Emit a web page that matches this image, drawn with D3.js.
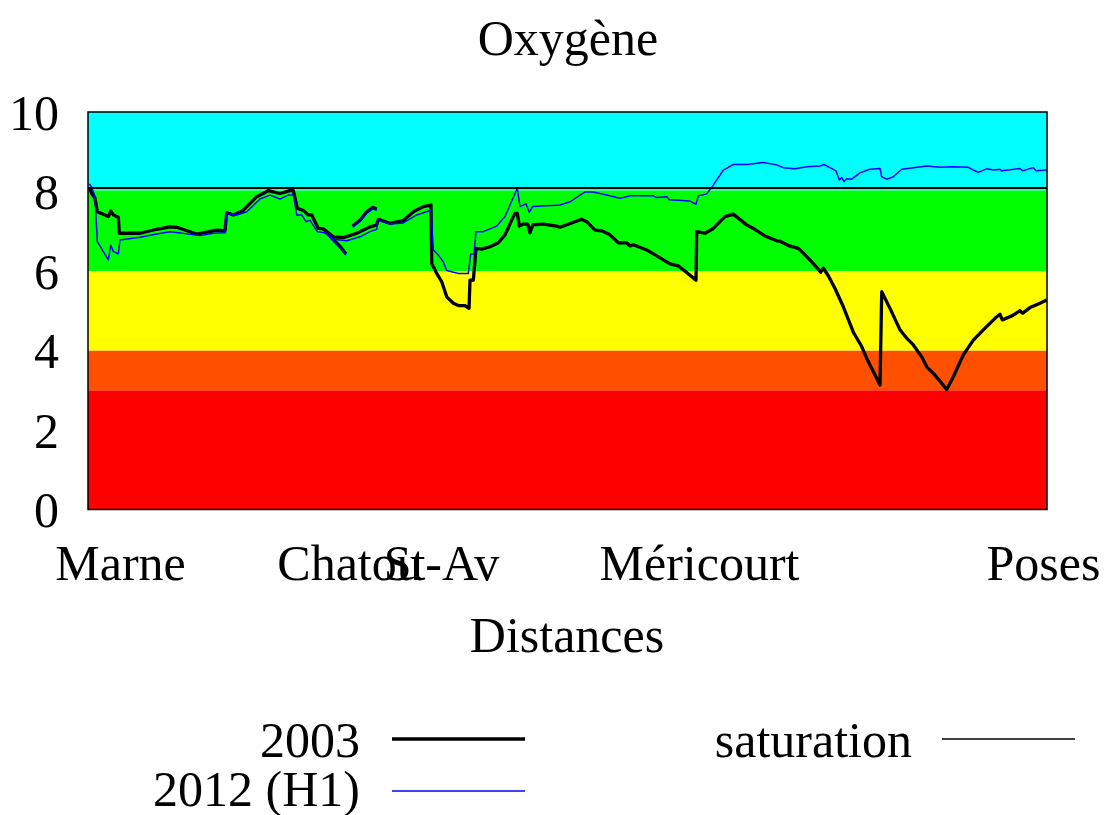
<!DOCTYPE html>
<html>
<head>
<meta charset="utf-8">
<script src="https://cdn.jsdelivr.net/npm/d3@7"></script>
<style>
  html, body { margin: 0; padding: 0; background: #fff; }
  svg { display: block; }
  text { font-family: "Liberation Serif", "Times New Roman", serif; fill: #000; }
</style>
</head>
<body>
<svg id="chart" width="1105" height="815"></svg>
<script>
// Dissolved oxygen (mg/l) along the Seine, Marne confluence -> Poses

// Quality classes (lower bound, upper bound, colour)
const classBounds = [0, 3, 4, 6, 8.03, 10];
const classColors = ["#ff0000", "#ff5000", "#ffff00", "#00ff00", "#00ffff"];
const saturationLevel = 8.09;

// Reach names shown on the distance axis (km)
const reachNames = ["Marne", "Chatou", "St-Av", "Méricourt", "Poses"];
const reachKm = [8, 65.25, 88.25, 152.75, 238.75];

const yTicks = [0, 2, 4, 6, 8, 10];

// 2003 profile, main channel
const dist2003 = [0.33, 0.93, 1.75, 2.33, 4.25, 5.08, 5.68, 6.33, 7.58, 7.83, 13.0, 17.18, 20.5, 22.18,
  27.18, 29.68, 32.18, 34.25, 34.68, 36.33, 38.83, 42.18, 45.08, 48.0, 50.5, 51.33, 52.33, 53.83,
  55.08, 55.93, 57.58, 58.83, 61.33, 63.83, 67.18, 70.5, 72.18, 72.58, 75.5, 78.83, 81.33, 83.83,
  85.75, 85.93, 87.18, 88.43, 89.68, 91.33, 92.58, 94.25, 95.25, 95.5, 96.33, 97.0, 98.43, 100.5,
  102.58, 104.25, 105.93, 106.75, 107.33, 107.83, 108.83, 109.93, 110.5, 111.18, 113.83, 117.18,
  118.0, 123.43, 124.68, 126.75, 128.43, 130.5, 132.58, 134.68, 135.5, 136.33, 139.68, 142.18,
  145.5, 147.58, 152.0, 152.18, 154.25, 156.33, 159.25, 161.33, 164.68, 166.33, 169.25, 172.18,
  173.0, 175.08, 177.58, 178.83, 180.93, 183.18, 183.83, 185.08, 186.75, 188.83, 191.33, 193.43,
  194.68, 196.33, 198.0, 198.43, 200.5, 203.0, 204.68, 206.33, 208.43, 209.68, 211.75, 214.68,
  216.33, 218.83, 221.33, 223.83, 226.75, 228.0, 228.58, 231.33, 233.0, 233.68, 235.5, 238.0, 239.68];
const oxy2003 = [8.11, 7.95, 7.83, 7.49, 7.41, 7.37, 7.51, 7.41, 7.35, 6.95, 6.95, 7.05, 7.11, 7.10,
  6.93, 6.98, 7.03, 7.01, 7.47, 7.41, 7.53, 7.87, 8.02, 7.95, 8.02, 8.02, 7.58, 7.52,
  7.41, 7.41, 7.07, 7.06, 6.86, 6.84, 6.95, 7.11, 7.16, 7.30, 7.20, 7.27, 7.49, 7.62,
  7.66, 6.19, 5.94, 5.73, 5.35, 5.19, 5.13, 5.13, 5.06, 5.77, 5.77, 6.57, 6.55, 6.61,
  6.71, 6.91, 7.28, 7.45, 7.45, 7.13, 7.18, 7.18, 6.96, 7.16, 7.18, 7.13,
  7.10, 7.30, 7.24, 7.03, 7.01, 6.91, 6.71, 6.71, 6.63, 6.66, 6.53, 6.38,
  6.18, 6.13, 5.77, 6.99, 6.95, 7.07, 7.37, 7.43, 7.16, 7.07, 6.88, 6.76,
  6.75, 6.64, 6.57, 6.45, 6.23, 5.97, 6.07, 5.88, 5.56, 5.10, 4.46, 4.10,
  3.80, 3.47, 3.13, 5.48, 5.06, 4.52, 4.31, 4.14, 3.84, 3.59, 3.38, 3.02,
  3.34, 3.89, 4.26, 4.52, 4.81, 4.91, 4.77, 4.89, 5.00, 4.94, 5.08, 5.19, 5.27];
// 2003, side branch below Chatou and upstream arm
const dist2003Branch = [59.68, 61.25, 63.0, 64.5];
const oxy2003Branch = [6.98, 6.80, 6.62, 6.43];
const dist2003Arm = [66.18, 67.0, 68.0, 69.68, 71.18, 72.18];
const oxy2003Arm = [7.13, 7.20, 7.28, 7.49, 7.60, 7.56];

// 2012 (H1) profile, main channel
const dist2012 = [0.33, 0.93, 1.75, 2.33, 5.08, 5.68, 6.33, 7.58, 8.0, 13.0, 17.18, 20.5, 22.18, 28.0,
  31.33, 34.25, 34.68, 37.18, 39.68, 43.0, 45.5, 48.0, 50.08, 51.33, 52.18, 53.43, 54.5, 55.5,
  57.33, 59.25, 61.33, 64.68, 68.0, 70.5, 72.18, 72.43, 75.5, 78.83, 82.18, 85.75, 86.33, 87.58,
  88.83, 89.68, 90.93, 92.58, 95.08, 95.68, 96.5, 97.0, 98.83, 102.18, 104.25, 107.33, 108.0,
  109.5, 110.33, 111.18, 118.0, 120.5, 124.25, 126.33, 129.68, 133.0, 135.5, 141.33, 142.18,
  144.68, 145.33, 150.5, 152.0, 152.58, 154.68, 156.33, 158.83, 161.33, 164.68, 168.83, 172.18,
  173.83, 176.75, 179.68, 183.0, 184.0, 185.5, 187.0, 187.83, 188.43, 189.0, 189.68, 190.93,
  193.0, 195.5, 198.0, 198.43, 199.68, 201.33, 203.43, 206.33, 209.68, 213.0, 216.33, 220.08,
  221.33, 222.58, 224.68, 226.33, 228.0, 228.43, 230.5, 233.0, 233.68, 236.33, 237.0, 239.68];
const oxy2012 = [8.19, 8.11, 7.87, 6.74, 6.28, 6.65, 6.49, 6.43, 6.78, 6.85, 6.93, 6.99, 6.97, 6.89,
  6.95, 6.96, 7.45, 7.41, 7.49, 7.81, 7.91, 7.81, 7.91, 7.91, 7.41, 7.41, 7.24, 7.28,
  6.99, 6.96, 6.80, 6.76, 6.86, 6.99, 7.05, 7.28, 7.18, 7.21, 7.41, 7.53, 6.53, 6.40,
  6.23, 6.01, 5.98, 5.94, 5.94, 6.43, 6.43, 6.99, 6.99, 7.13, 7.37, 8.08, 7.62,
  7.69, 7.48, 7.62, 7.66, 7.74, 7.99, 7.99, 7.91, 7.83, 7.89, 7.89, 7.85,
  7.87, 7.79, 7.76, 7.68, 7.89, 7.94, 8.16, 8.54, 8.68, 8.68, 8.73, 8.67,
  8.60, 8.57, 8.62, 8.64, 8.68, 8.60, 8.52, 8.29, 8.35, 8.25, 8.32, 8.31,
  8.47, 8.56, 8.58, 8.37, 8.31, 8.37, 8.56, 8.60, 8.64, 8.61, 8.62, 8.61,
  8.54, 8.48, 8.57, 8.54, 8.56, 8.52, 8.55, 8.58, 8.52, 8.60, 8.52, 8.54];
const dist2012Branch = [59.68, 61.25, 63.0, 64.5];
const oxy2012Branch = [6.93, 6.76, 6.58, 6.40];
const dist2012Arm = [66.18, 68.0, 69.68, 71.18, 72.18];
const oxy2012Arm = [7.10, 7.25, 7.45, 7.56, 7.53];

const legendLabels = ["2003", "2012 (H1)", "saturation"];

// ---------------------------------------------------------------
const svg = d3.select("#chart");
const plot = { left: 88, right: 1047, top: 112, bottom: 509.5 };

const x = d3.scaleLinear().domain([0, 239.75]).range([plot.left, plot.right]);
const y = d3.scaleLinear().domain([0, 10]).range([plot.bottom, plot.top]);

const toPoints = (ds, vs) => ds.map((d, i) => [d, vs[i]]);
const line = d3.line().x(d => x(d[0])).y(d => y(d[1]));

// class bands
const bands = classColors.map((c, i) => ({ lo: classBounds[i], hi: classBounds[i + 1], color: c }));
svg.append("g").selectAll("rect").data(bands).join("rect")
  .attr("x", x(0)).attr("width", x(239.75) - x(0))
  .attr("y", d => y(d.hi)).attr("height", d => y(d.lo) - y(d.hi))
  .attr("fill", d => d.color);

// series
const drawSeries = (segments, color, width) => {
  const g = svg.append("g");
  segments.forEach(([ds, vs]) => {
    g.append("path").attr("d", line(toPoints(ds, vs)))
      .attr("fill", "none").attr("stroke", color).attr("stroke-width", width)
      .attr("stroke-linejoin", "round").attr("stroke-linecap", "butt");
  });
};
drawSeries([[dist2003, oxy2003], [dist2003Branch, oxy2003Branch], [dist2003Arm, oxy2003Arm]], "#000", 3.3);
drawSeries([[dist2012, oxy2012], [dist2012Branch, oxy2012Branch], [dist2012Arm, oxy2012Arm]], "#0000ff", 1.5);

// saturation line
svg.append("path")
  .attr("d", line([[0, saturationLevel], [239.75, saturationLevel]]))
  .attr("stroke", "#000").attr("stroke-width", 2).attr("fill", "none");

// frame
svg.append("rect")
  .attr("x", plot.left).attr("y", plot.top)
  .attr("width", plot.right - plot.left).attr("height", plot.bottom - plot.top)
  .attr("fill", "none").attr("stroke", "#000").attr("stroke-width", 1.5);

// y axis labels
const yAxis = d3.axisLeft(y).tickValues(yTicks).tickSize(0).tickPadding(0).tickFormat(d3.format("d"));
const yg = svg.append("g").attr("transform", `translate(${59},0)`).call(yAxis);
yg.select(".domain").remove();
yg.selectAll("text").attr("font-size", 50).attr("font-family", "Liberation Serif").attr("dy", "0.34em");

// x axis labels
const xAxis = d3.axisBottom(x).tickValues(reachKm).tickSize(0).tickPadding(0)
  .tickFormat((d, i) => reachNames[i]);
const xg = svg.append("g").attr("transform", `translate(0,${580})`).call(xAxis);
xg.select(".domain").remove();
xg.selectAll("text").attr("font-size", 50).attr("font-family", "Liberation Serif").attr("dy", 0);

// titles
svg.append("text").attr("x", 568).attr("y", 55).attr("text-anchor", "middle")
  .attr("font-size", 50).text("Oxygène");
svg.append("text").attr("x", 567).attr("y", 652).attr("text-anchor", "middle")
  .attr("font-size", 50).text("Distances");

// legend
const legend = [
  { label: legendLabels[0], tx: 360, ty: 757, x1: 392, x2: 525, ly: 739, color: "#000", w: 3.3 },
  { label: legendLabels[1], tx: 360, ty: 806, x1: 392, x2: 525, ly: 791, color: "#0000ff", w: 1.5 },
  { label: legendLabels[2], tx: 912, ty: 757, x1: 942, x2: 1075, ly: 739, color: "#000", w: 1.5 }
];
const lg = svg.append("g").selectAll("g").data(legend).join("g");
lg.append("text").attr("x", d => d.tx).attr("y", d => d.ty).attr("text-anchor", "end")
  .attr("font-size", 50).text(d => d.label);
lg.append("line").attr("x1", d => d.x1).attr("x2", d => d.x2)
  .attr("y1", d => d.ly).attr("y2", d => d.ly)
  .attr("stroke", d => d.color).attr("stroke-width", d => d.w);
</script>
</body>
</html>
